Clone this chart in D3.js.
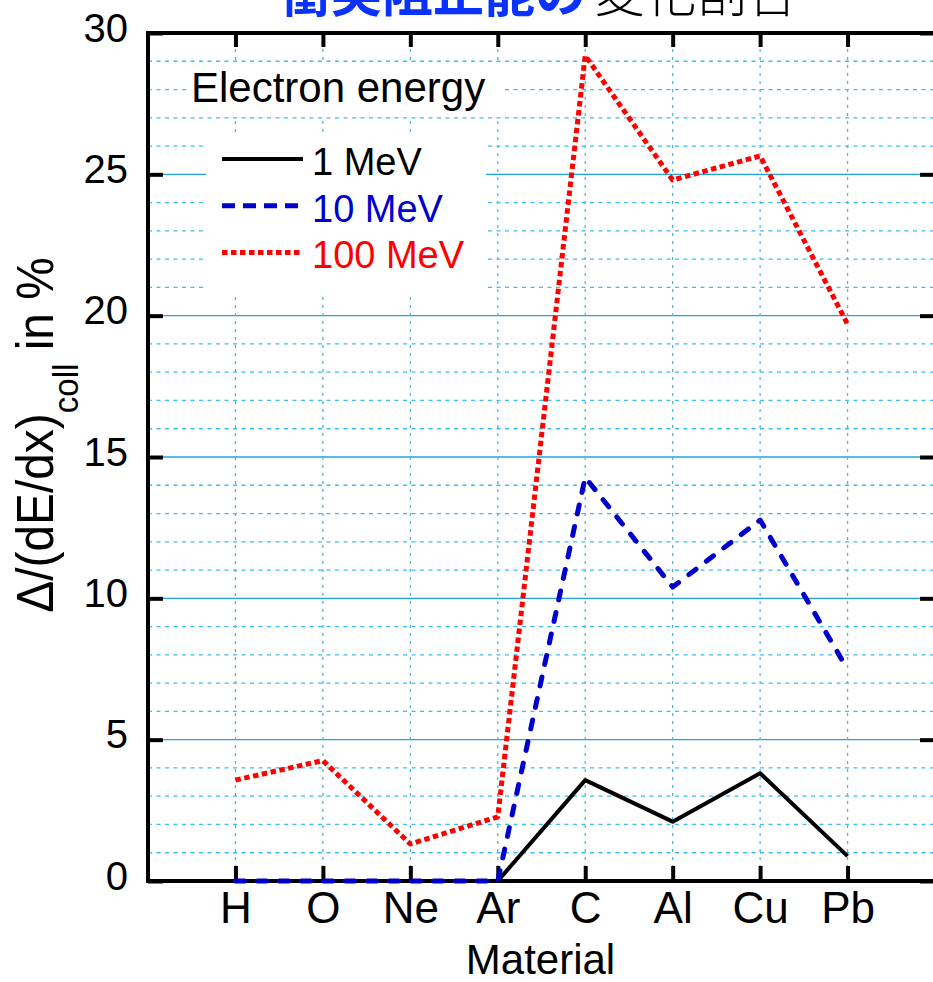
<!DOCTYPE html>
<html>
<head>
<meta charset="utf-8">
<script src="https://cdn.jsdelivr.net/npm/d3@7"></script>
<style>
  body { margin: 0; background: #fff; }
  svg { display: block; font-family: "Liberation Sans", Arial, sans-serif; }
</style>
</head>
<body>
<div class="chart"></div>
<script>
// data
var materials = ["H", "O", "Ne", "Ar", "C", "Al", "Cu", "Pb"];
var mev1 = [0, 0, 0, 0, 3.57, 2.1, 3.81, 0.88];
var mev10 = [0, 0, 0, 0, 14.28, 10.4, 12.77, 7.49];
var mev100 = [3.57, 4.26, 1.31, 2.27, 29.2, 24.8, 25.65, 19.7];
var yTicks = [0, 5, 10, 15, 20, 25, 30];
var seriesNames = ["1 MeV", "10 MeV", "100 MeV"];

var W = 933, H = 982;
var margin = { top: 33, right: -2, bottom: 101, left: 148 },
	width = W - margin.left - margin.right,
	height = H - margin.top - margin.bottom;

var svg = d3.select(".chart").append("svg")
	.attr("width", W)
	.attr("height", H);

// title (cut off at the top of the picture)
var title = svg.append("text")
	.attr("x", 280)
	.attr("y", 12)
	.style("font-family", "'Noto Sans CJK JP', sans-serif")
	.style("font-size", "51px");
title.append("tspan").attr("fill", "#0a32ff").style("font-weight", "bold").text("衝突阻止能の");
title.append("tspan").attr("dx", 8).attr("fill", "#000").style("font-weight", "300").text("変化割合");

var g = svg.append("g")
	.attr("transform", "translate(" + margin.left + "," + margin.top + ")");

var x = d3.scaleLinear()
	.domain([0, materials.length + 1])
	.range([0, width]);

var y = d3.scaleLinear()
	.domain([0, 30])
	.range([height, 0]);

// grid
var minor = d3.range(1, 30).filter(function (v) { return v % 5 != 0; });
g.selectAll(".minor")
	.data(minor)
	.enter().append("line")
	.attr("x1", 0).attr("x2", width)
	.attr("y1", function (d) { return y(d); })
	.attr("y2", function (d) { return y(d); })
	.attr("stroke", "#3dbdf0")
	.attr("stroke-width", 1.3)
	.attr("stroke-dasharray", "4,4.5");

g.selectAll(".major")
	.data([5, 10, 15, 20, 25])
	.enter().append("line")
	.attr("x1", 0).attr("x2", width)
	.attr("y1", function (d) { return y(d); })
	.attr("y2", function (d) { return y(d); })
	.attr("stroke", "#1ea5df")
	.attr("stroke-width", 1.3);

g.selectAll(".vgrid")
	.data(materials)
	.enter().append("line")
	.attr("x1", function (d, i) { return x(i + 1); })
	.attr("x2", function (d, i) { return x(i + 1); })
	.attr("y1", 0).attr("y2", height)
	.attr("stroke", "#3dbdf0")
	.attr("stroke-width", 1.3)
	.attr("stroke-dasharray", "3,5");

// axes: ticks point inward
var xAxis = g.append("g")
	.attr("transform", "translate(0," + height + ")")
	.call(d3.axisBottom(x)
		.tickValues(d3.range(1, materials.length + 1))
		.tickFormat(function (d) { return materials[d - 1]; })
		.tickSize(-15)
		.tickPadding(11));
xAxis.select(".domain").remove();
xAxis.selectAll("text").style("font-size", "44px").attr("fill", "#000");

var xTop = g.append("g")
	.call(d3.axisTop(x)
		.tickValues(d3.range(1, materials.length + 1))
		.tickFormat("")
		.tickSize(-14));
xTop.select(".domain").remove();

var yAxis = g.append("g")
	.call(d3.axisLeft(y)
		.tickValues(yTicks)
		.tickSize(-15)
		.tickPadding(20));
yAxis.select(".domain").remove();
yAxis.selectAll("text").style("font-size", "40px").attr("dy", "0.2em").attr("fill", "#000");

var yRight = g.append("g")
	.attr("transform", "translate(" + width + ",0)")
	.call(d3.axisRight(y)
		.tickValues(yTicks)
		.tickFormat("")
		.tickSize(-15));
yRight.select(".domain").remove();

g.selectAll(".tick line").attr("stroke", "#000").attr("stroke-width", 4);

// legend boxes blank out the grid
g.append("rect")
	.attr("x", 190 - margin.left).attr("y", 62 - margin.top)
	.attr("width", 315).attr("height", 54)
	.attr("fill", "#fff");
g.append("rect")
	.attr("x", 206 - margin.left).attr("y", 134 - margin.top)
	.attr("width", 280).attr("height", 162)
	.attr("fill", "#fff");

// frame
g.append("rect")
	.attr("width", width).attr("height", height)
	.attr("fill", "none")
	.attr("stroke", "#000")
	.attr("stroke-width", 4);

// lines
var line = d3.line()
	.x(function (d, i) { return x(i + 1); })
	.y(function (d) { return y(d); });

var styles = [
	{ data: mev1, color: "#000", width: 4, dash: null, cap: "butt" },
	{ data: mev10, color: "#0000cd", width: 5, dash: "9,13", cap: "round" },
	{ data: mev100, color: "#ff0000", width: 5, dash: "5.5,3.5", cap: "butt" }
];

styles.forEach(function (s) {
	g.append("path")
		.datum(s.data)
		.attr("fill", "none")
		.attr("stroke", s.color)
		.attr("stroke-width", s.width)
		.attr("stroke-linejoin", "round")
		.attr("stroke-linecap", s.cap)
		.attr("stroke-dasharray", s.dash)
		.attr("d", line);
});

// legend
svg.append("text")
	.attr("x", 191).attr("y", 102)
	.style("font-size", "42px")
	.text("Electron energy");

var legendColors = ["#000", "#0000cd", "#ff0000"];
seriesNames.forEach(function (name, i) {
	var s = styles[i];
	var by = 175 + i * 46.7;
	svg.append("line")
		.attr("x1", 222).attr("x2", 303)
		.attr("y1", by - 16).attr("y2", by - 16)
		.attr("stroke", s.color)
		.attr("stroke-width", s.width)
		.attr("stroke-linecap", "butt")
		.attr("stroke-dasharray", i == 1 ? "13,8" : (i == 2 ? "5.5,3.5" : null));
	svg.append("text")
		.attr("x", 312).attr("y", by)
		.attr("fill", legendColors[i])
		.style("font-size", "38px")
		.text(name);
});

// axis titles
svg.append("text")
	.attr("x", margin.left + width / 2 - 1)
	.attr("y", 974)
	.attr("text-anchor", "middle")
	.style("font-size", "42px")
	.text("Material");

var yl = svg.append("text")
	.attr("transform", "translate(53,435) rotate(-90) scale(0.92,1)")
	.attr("text-anchor", "middle")
	.style("font-size", "52px");
yl.append("tspan").text("Δ/(dE/dx)");
yl.append("tspan").attr("dy", 25).style("font-size", "36px").text("coll");
yl.append("tspan").attr("dy", -25).text(" in %");
</script>
</body>
</html>
